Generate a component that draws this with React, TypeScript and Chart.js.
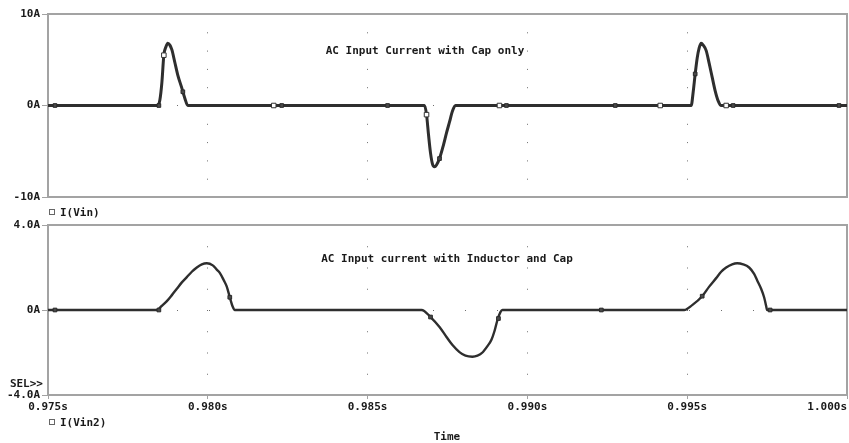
import React, { useEffect, useRef } from "react";
import { Chart, registerables } from "chart.js";

Chart.register(...registerables);

// ---------- data ----------
const xTickValues = [0.975, 0.98, 0.985, 0.99, 0.995, 1.0];
const xTickLabels = ["0.975s", "0.980s", "0.985s", "0.990s", "0.995s", "1.000s"];
const topYTicks = [-10, 0, 10];
const topYLabels = ["-10A", "0A", "10A"];
const bottomYTicks = [-4, 0, 4];
const bottomYLabels = ["-4.0A", "0A", "4.0A"];

// I(Vin): AC input current with cap only
const vinTimes = [
  0.975, 0.978438, 0.9785, 0.978563, 0.978625, 0.978688, 0.97875, 0.978813, 0.978875,
  0.978969, 0.979063, 0.979188, 0.979281, 0.979375,
  0.986781, 0.986844, 0.986906, 0.986969, 0.987031, 0.987094, 0.987156, 0.98725,
  0.987375, 0.987469, 0.987563, 0.987656, 0.98775,
  0.995125, 0.995188, 0.99525, 0.995313, 0.995375, 0.995438, 0.9955, 0.995594,
  0.995688, 0.995781, 0.995875, 0.995969, 0.996063, 1.0,
];
const vinCurrent = [
  0, 0, 0.6, 2.5, 5.5, 6.4, 6.8, 6.6, 6.1, 4.7, 3.3, 1.9, 0.8, 0,
  0, -1.0, -3.2, -5.2, -6.4, -6.7, -6.5, -5.8, -4.3, -3.0, -1.8, -0.6, 0,
  0, 1.5, 3.45, 5.2, 6.3, 6.8, 6.6, 6.0, 4.6, 3.1, 1.6, 0.5, 0, 0,
];
const vinOpenMarkerTimes = [0.978625, 0.982063, 0.986844, 0.989125, 0.994156, 0.996219];
const vinOpenMarkerValues = [5.5, 0, -1.0, 0, 0, 0];
const vinFilledMarkerTimes = [
  0.975219, 0.978469, 0.979219, 0.982313, 0.985625, 0.98725, 0.989344, 0.99275, 0.99525,
  0.996438, 0.99975,
];
const vinFilledMarkerValues = [0, 0, 1.5, 0, 0, -5.8, 0, 0, 3.45, 0, 0];

// I(Vin2): AC input current with inductor and cap
const vin2Times = [
  0.975, 0.978406, 0.978563, 0.978719, 0.978875, 0.979031, 0.979188, 0.979344, 0.9795,
  0.979656, 0.979813, 0.979969, 0.980156, 0.980281, 0.980375, 0.9805, 0.980594, 0.980688,
  0.980781, 0.980844,
  0.986688, 0.986969, 0.98725, 0.987469, 0.987656, 0.987875, 0.988063, 0.988281, 0.988438,
  0.988594, 0.98875, 0.988875, 0.988969, 0.989063, 0.989156, 0.989219,
  0.994906, 0.995156, 0.995469, 0.995688, 0.995906, 0.996063, 0.996219, 0.996406, 0.996563,
  0.99675, 0.996938, 0.997094, 0.997188, 0.997313, 0.997406, 0.997469, 0.9975, 1.0,
];
const vin2Current = [
  0, 0, 0.2, 0.42, 0.7, 1.0, 1.3, 1.55, 1.8, 2.0, 2.15, 2.2, 2.1, 1.9, 1.75, 1.4, 1.1, 0.6,
  0.15, 0,
  0, -0.33, -0.8, -1.27, -1.65, -1.98, -2.15, -2.2, -2.15, -2.0, -1.7, -1.4, -1.0, -0.47,
  -0.1, 0,
  0, 0.23, 0.65, 1.1, 1.5, 1.8, 2.0, 2.15, 2.2, 2.15, 2.0, 1.7, 1.4, 1.0, 0.6, 0.2, 0, 0,
];
const vin2MarkerTimes = [
  0.975219, 0.978469, 0.980688, 0.986969, 0.989094, 0.992313, 0.995469, 0.997594,
];
const vin2MarkerValues = [0, 0, 0.6, -0.33, -0.4, 0, 0.65, 0];

// ---------- styles ----------
const FONT = "'DejaVu Sans Mono', 'Liberation Mono', monospace";
const axisColor = "#a3a3a3";
const dotColor = "#6e6e6e";
const traceColor = "#2e2e2e";
const textColor = "#1a1a1a";

const pts = (ts: number[], vs: number[]) => ts.map((t, i) => ({ x: t, y: vs[i] }));

const boxPlugin = {
  id: "plotBox",
  beforeDatasetsDraw(chart: any) {
    const { ctx, chartArea: a } = chart;
    ctx.save();
    ctx.strokeStyle = axisColor;
    ctx.lineWidth = 2;
    ctx.beginPath();
    ctx.moveTo(a.left, a.top);
    ctx.lineTo(a.right, a.top);
    ctx.lineTo(a.right, a.bottom);
    ctx.stroke();
    ctx.restore();
  },
};

function makeConfig(opts: {
  lineData: { x: number; y: number }[];
  lineWidth: number;
  openMarkers: { x: number; y: number }[];
  filledMarkers: { x: number; y: number }[];
  yMin: number;
  yMax: number;
  yTicks: number[];
  yLabels: string[];
  vDash: number[];
  showX: boolean;
  xHeight: number;
  padTop: number;
  label: string;
}): any {
  return {
    type: "line",
    data: {
      datasets: [
        {
          label: opts.label + " open",
          data: opts.openMarkers,
          showLine: false,
          pointStyle: "rect",
          pointRadius: 3.2,
          pointBackgroundColor: "#ffffff",
          pointBorderColor: "#333333",
          pointBorderWidth: 1,
          order: 0,
        },
        {
          label: opts.label + " filled",
          data: opts.filledMarkers,
          showLine: false,
          pointStyle: "rect",
          pointRadius: 2.6,
          pointBackgroundColor: "#4a4a4a",
          pointBorderColor: "#2a2a2a",
          pointBorderWidth: 1,
          order: 0,
        },
        {
          label: opts.label,
          data: opts.lineData,
          borderColor: traceColor,
          borderWidth: opts.lineWidth,
          pointRadius: 0,
          cubicInterpolationMode: "monotone",
          fill: false,
          order: 1,
        },
      ],
    },
    options: {
      responsive: false,
      animation: false,
      events: [],
      layout: { autoPadding: false, padding: { top: opts.padTop, right: 2, left: 0, bottom: 0 } },
      plugins: { legend: { display: false }, tooltip: { enabled: false } },
      scales: {
        x: {
          type: "linear",
          min: 0.975,
          max: 1.0,
          afterBuildTicks: (s: any) => {
            s.ticks = xTickValues.map((v) => ({ value: v }));
          },
          ticks: {
            display: opts.showX,
            callback: (_v: any, i: number) =>
              i === xTickLabels.length - 1 ? xTickLabels[i] + "      " : xTickLabels[i],
            padding: 2,
            maxRotation: 0,
            autoSkip: false,
            color: textColor,
            font: { family: FONT, size: 11, weight: "bold" },
          },
          grid: {
            color: dotColor,
            lineWidth: 1,
            drawTicks: opts.showX,
            tickColor: axisColor,
            tickLength: 4,
          },
          border: { display: true, color: axisColor, width: 2, dash: opts.vDash },
          afterFit: (s: any) => {
            s.height = opts.xHeight;
            s.paddingRight = 0;
            s.paddingLeft = 0;
          },
        },
        y: {
          type: "linear",
          min: opts.yMin,
          max: opts.yMax,
          afterBuildTicks: (s: any) => {
            s.ticks = opts.yTicks.map((v) => ({ value: v }));
          },
          ticks: {
            callback: (_v: any, i: number) => opts.yLabels[i],
            padding: 2,
            color: textColor,
            font: { family: FONT, size: 11, weight: "bold" },
          },
          grid: {
            color: (c: any) => (c.tick && c.tick.value === 0 ? dotColor : "rgba(0,0,0,0)"),
            lineWidth: 1,
            drawTicks: true,
            tickColor: axisColor,
            tickLength: 6,
          },
          border: { display: true, color: axisColor, width: 2, dash: [1, 31] },
          afterFit: (s: any) => {
            s.width = 48;
          },
        },
      },
    },
    plugins: [boxPlugin],
  };
}

const textBase: React.CSSProperties = {
  position: "absolute",
  fontFamily: FONT,
  fontSize: 11,
  fontWeight: "bold",
  lineHeight: "13px",
  color: textColor,
  whiteSpace: "pre",
};

function LegendItem({ top, text }: { top: number; text: string }) {
  return (
    <div style={{ ...textBase, left: 49, top: top - 6.5 }}>
      <span
        style={{
          display: "inline-block",
          width: 4,
          height: 4,
          border: "1px solid #666",
          marginRight: 5,
          verticalAlign: "middle",
          position: "relative",
          top: -1,
        }}
      />
      {text}
    </div>
  );
}

export default function App() {
  const topRef = useRef<HTMLCanvasElement>(null);
  const bottomRef = useRef<HTMLCanvasElement>(null);

  useEffect(() => {
    const top = new Chart(
      topRef.current as HTMLCanvasElement,
      makeConfig({
        lineData: pts(vinTimes, vinCurrent),
        lineWidth: 3,
        openMarkers: pts(vinOpenMarkerTimes, vinOpenMarkerValues),
        filledMarkers: pts(vinFilledMarkerTimes, vinFilledMarkerValues),
        yMin: -10,
        yMax: 10,
        yTicks: topYTicks,
        yLabels: topYLabels,
        vDash: [1, 17.3],
        showX: false,
        xHeight: 15,
        padTop: 14,
        label: "I(Vin)",
      })
    );
    const bottom = new Chart(
      bottomRef.current as HTMLCanvasElement,
      makeConfig({
        lineData: pts(vin2Times, vin2Current),
        lineWidth: 2.4,
        openMarkers: [],
        filledMarkers: pts(vin2MarkerTimes, vin2MarkerValues),
        yMin: -4,
        yMax: 4,
        yTicks: bottomYTicks,
        yLabels: bottomYLabels,
        vDash: [1, 20.25],
        showX: true,
        xHeight: 48,
        padTop: 13,
        label: "I(Vin2)",
      })
    );
    return () => {
      top.destroy();
      bottom.destroy();
    };
  }, []);

  return (
    <div
      style={{
        position: "fixed",
        left: 0,
        top: 0,
        width: 849,
        height: 443,
        background: "#ffffff",
        overflow: "hidden",
      }}
    >
      <canvas
        ref={topRef}
        width={849}
        height={212}
        style={{ position: "absolute", left: 0, top: 0, width: 849, height: 212 }}
      />
      <canvas
        ref={bottomRef}
        width={849}
        height={231}
        style={{ position: "absolute", left: 0, top: 212, width: 849, height: 231 }}
      />
      <div style={{ ...textBase, left: 425, top: 50, transform: "translate(-50%, -50%)" }}>
        AC Input Current with Cap only
      </div>
      <div style={{ ...textBase, left: 447, top: 258, transform: "translate(-50%, -50%)" }}>
        AC Input current with Inductor and Cap
      </div>
      <LegendItem top={212} text="I(Vin)" />
      <LegendItem top={422} text="I(Vin2)" />
      <div style={{ ...textBase, right: 849 - 43, top: 383 - 6.5 }}>SEL&gt;&gt;</div>
      <div style={{ ...textBase, left: 447, top: 436, transform: "translate(-50%, -50%)" }}>
        Time
      </div>
    </div>
  );
}
